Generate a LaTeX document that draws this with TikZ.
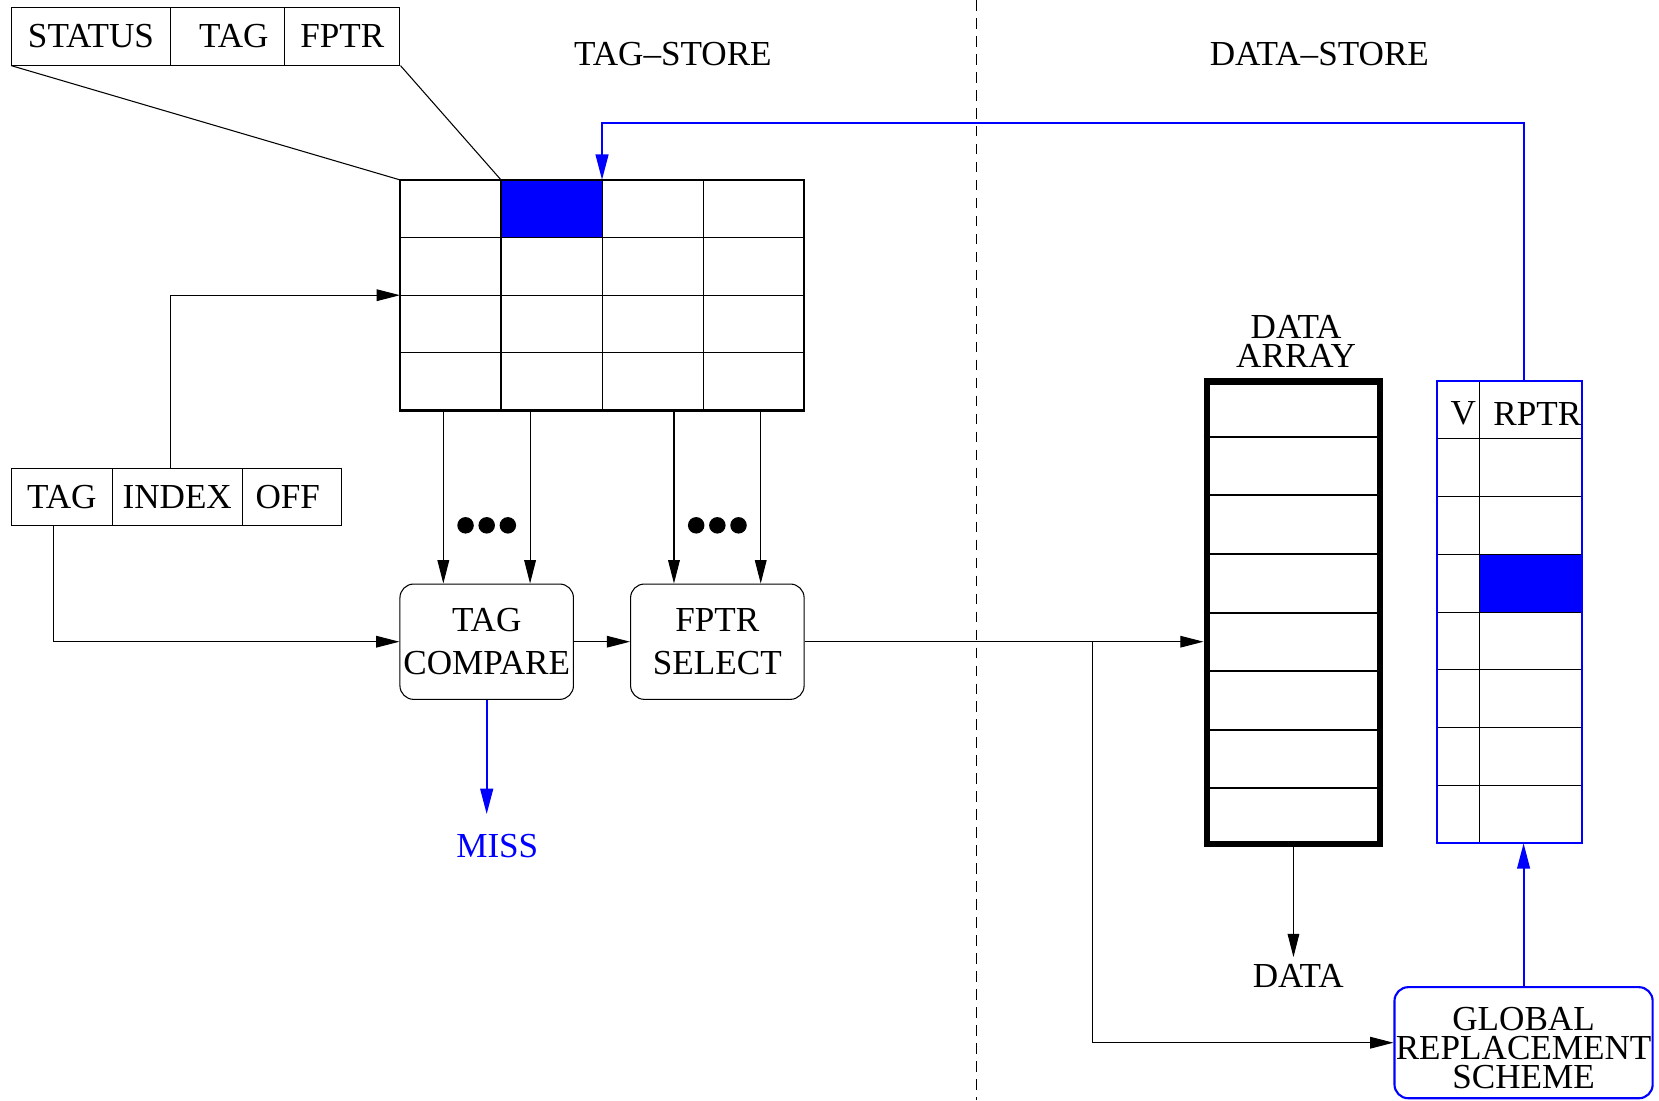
\documentclass[tikz,border=0pt]{standalone}
\usepackage{fontspec}
\setmainfont{Liberation Serif}
\usetikzlibrary{arrows.meta,calc}

\begin{document}
\begin{tikzpicture}[x=0.5pt,y=-0.5pt,
  every node/.style={font=\fontsize{16.6}{19}\selectfont, inner sep=0pt},
  thinline/.style={line width=0.5pt},
  fieldcell/.style={draw, line width=0.5pt, minimum height=27.25pt},
  addrcell/.style={draw, line width=0.5pt, minimum height=27pt},
  arr/.style={line width=0.5pt, -{Triangle[length=11pt,width=5.5pt]}},
  bluearr/.style={draw=blue, line width=1pt, -{Triangle[length=12pt,width=6pt]}},
  unitbox/.style={draw, rounded corners=6.5pt, line width=0.5pt,
    minimum width=82pt, minimum height=54.5pt, align=center,
    font=\fontsize{16.6}{20.5}\selectfont},
  tightlines/.style={align=center, font=\fontsize{16.6}{13.6}\selectfont},
  dot/.style={fill=black}
]
\useasboundingbox (0,0) rectangle (1568,1040);

% ---- section headings and the dashed divider ----
\node (tagStore) at (636,51) {TAG\textendash STORE};
\node (dataStore) at (1247,51) {DATA\textendash STORE};
\coordinate (sepTop) at (923,0);
\coordinate (sepBot) at (923,1040);
\draw[thinline, dash pattern=on 5pt off 3.5pt] (sepTop) -- (sepBot);

% ---- tag-store entry format ----
\node[fieldcell, minimum width=75pt]   (fStatus) at (86,34.25)    {STATUS};
\node[fieldcell, minimum width=54pt]   (fTag)    at (215,34.25)   {\hspace*{6pt}TAG};
\node[fieldcell, minimum width=54.5pt] (fPtr)    at (323.5,34.25) {FPTR};

% ---- tag-store array ----
\node[fill=blue, minimum width=47.75pt, minimum height=27.25pt, outer sep=0pt] (hit) at (521.25,197.25) {};
\node[draw, line width=1pt, minimum width=191pt, minimum height=109pt, outer sep=0pt] (grid) at (569,279) {};
\foreach \i in {1,2,3} {
  \draw[thinline] ($(grid.north west)!\i/4!(grid.north east)$) -- ($(grid.south west)!\i/4!(grid.south east)$);
  \draw[thinline] ($(grid.north west)!\i/4!(grid.south west)$) -- ($(grid.north east)!\i/4!(grid.south east)$);
}
\draw[thinline] (fStatus.south west) -- (grid.north west);
\draw[thinline] (fPtr.south east) -- (hit.north west);

% ---- address fields ----
\node[addrcell, minimum width=47.5pt] (aTag) at (58.5,470)  {TAG};
\node[addrcell, minimum width=61.5pt] (aIdx) at (167.5,470) {INDEX};
\node[addrcell, minimum width=47pt]   (aOff) at (276,470)   {\hspace*{-4pt}OFF};

% ---- compare and select units ----
\node[unitbox] (cmp) at (460,606.5) {TAG\\COMPARE};
\node[unitbox] (sel) at (678,606.5) {FPTR\\SELECT};

\draw[arr] ($(aIdx.north)+(-6.5,0)$) |- (grid.west);
\draw[arr] ($(aTag.south)+(-7.5,0)$) |- (cmp.west);

\foreach \u in {cmp,sel} {
  \foreach \dx [count=\n] in {-41,41} {
    \path (\u.north) ++(\dx,0) coordinate (\u in\n);
    \draw[arr] (grid.south -| \u in\n) -- (\u in\n);
  }
  \foreach \k in {-20,0,20}
    \fill[dot] ($(\u.north)+(\k,-55)$) circle[radius=7.8];
}
\draw[arr] (cmp.east) -- (sel.west);

\node[text=blue] (miss) at (470,800) {MISS};
\draw[bluearr, shorten >=9.5pt] (cmp.south) -- (cmp.south |- miss.north);

% ---- data array ----
\node[tightlines] (dlabel) at (1225,323) {DATA\\ARRAY};
\node[draw, line width=3pt, minimum width=82pt, minimum height=218.5pt] (darr) at (1222.5,579) {};
\foreach \i in {1,...,7}
  \draw[line width=1pt] ($(darr.north west)!\i/8!(darr.south west)$) -- ($(darr.north east)!\i/8!(darr.south east)$);

\node (dataOut) at (1227,922) {DATA};
\draw[arr, shorten >=3pt] (darr.south) -- (darr.south |- dataOut.north);

% ---- replacement pointer table ----
\node[fill=blue, minimum width=48pt, minimum height=27.3pt, outer sep=0pt] (slot) at (1447,551.2) {};
\node[minimum width=68.5pt, minimum height=218.5pt, outer sep=0pt] (rtab) at (1426.5,578.5) {};
\draw[thinline] ($(rtab.north west)+(40.5,0)$) -- ($(rtab.south west)+(40.5,0)$);
\foreach \i in {1,...,7}
  \draw[thinline] ($(rtab.north west)!\i/8!(rtab.south west)$) -- ($(rtab.north east)!\i/8!(rtab.south east)$);
\draw[blue, line width=1pt] (rtab.north west) rectangle (rtab.south east);
\node (vHead) at (1383,391) {V};
\node (rHead) at (1453,391) {RPTR};

% ---- global replacement scheme (text set slightly low in its box) ----
\node[unitbox, draw=blue, line width=1pt, minimum width=122pt, minimum height=52.5pt,
      text height=43pt, font=\fontsize{16.6}{13.6}\selectfont] (grs) at (1440,985.5) {GLOBAL\\REPLACEMENT\\SCHEME};

% ---- data path connectors ----
\draw[arr] (sel.east) -- (sel.east -| darr.west);
\path (sel.east) ++(272,0) coordinate (branch);
\draw[arr] (branch) |- (grs.west);
\draw[bluearr] (grs.north) -- (grs.north |- rtab.south);
\draw[bluearr] (rtab.north -| grs.north) -- ++(0,-244) -| (hit.north east);
\end{tikzpicture}
\end{document}
